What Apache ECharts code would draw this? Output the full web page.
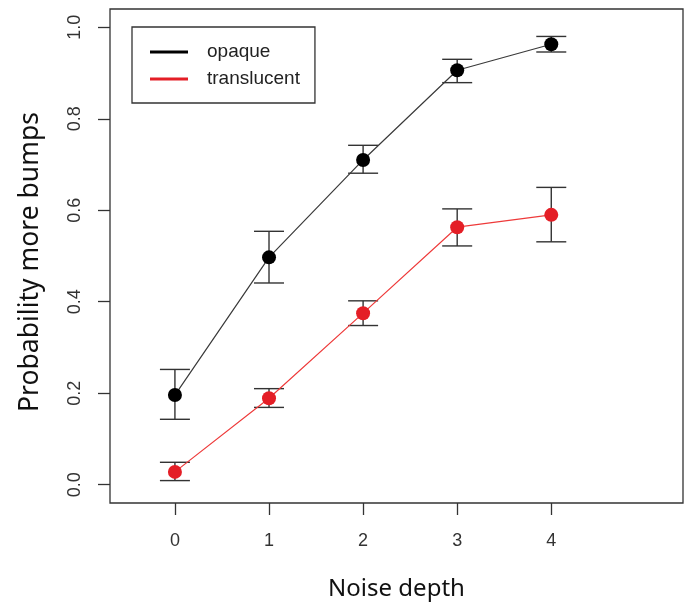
<!DOCTYPE html>
<html>
<head>
<meta charset="utf-8">
<script src="https://cdn.jsdelivr.net/npm/echarts@6/dist/echarts.min.js"></script>
<style>
  html, body { margin: 0; padding: 0; background: #fff; }
  #chart { width: 689px; height: 608px; }
</style>
</head>
<body>
<div id="chart"></div>
<script>
// Noise depth levels
const depths = [0, 1, 2, 3, 4]
const xTicks = [0, 1, 2, 3, 4]
const yTicks = [0, 0.2, 0.4, 0.6, 0.8, 1.0]

// opaque
const opaqueMean = [0.196, 0.497, 0.710, 0.906, 0.963]
const opaqueLow = [0.143, 0.441, 0.681, 0.879, 0.946]
const opaqueHigh = [0.252, 0.554, 0.742, 0.930, 0.980]

// translucent
const transMean = [0.028, 0.189, 0.375, 0.563, 0.590]
const transLow = [0.009, 0.169, 0.348, 0.522, 0.531]
const transHigh = [0.049, 0.210, 0.402, 0.603, 0.650]

const chart = echarts.init(document.getElementById('chart'), null, { renderer: 'canvas' })

// error bar with caps, drawn through the axes
const errorBar = (params, api) => {
  const x = api.value(0)
  const lo = api.coord([x, api.value(1)])
  const hi = api.coord([x, api.value(2)])
  const half = 15
  const style = { stroke: '#333', lineWidth: 1.4 }
  return {
    type: 'group',
    children: [
      { type: 'line', shape: { x1: lo[0], y1: lo[1], x2: hi[0], y2: hi[1] }, style },
      { type: 'line', shape: { x1: lo[0] - half, y1: lo[1], x2: lo[0] + half, y2: lo[1] }, style },
      { type: 'line', shape: { x1: hi[0] - half, y1: hi[1], x2: hi[0] + half, y2: hi[1] }, style }
    ]
  }
}

const tickFont = { fontFamily: 'Liberation Sans', fontSize: 18, color: '#333' }

chart.setOption({
  animation: false,
  backgroundColor: '#fff',
  grid: {
    left: 110, right: 6, top: 9, bottom: 105,
    show: true, borderColor: '#333', borderWidth: 1.3, backgroundColor: 'transparent'
  },
  legend: {
    orient: 'vertical',
    left: 132, top: 27,
    width: 183,
    padding: [15, 15, 14, 18],
    itemGap: 7,
    itemWidth: 38,
    itemHeight: 3,
    icon: 'rect',
    borderColor: '#333',
    borderWidth: 1.3,
    textStyle: { fontFamily: 'Liberation Sans', fontSize: 19, color: '#222', lineHeight: 20, padding: [0, 0, 0, 14] },
    data: ['opaque', 'translucent']
  },
  xAxis: {
    type: 'value',
    min: -0.69, max: 5.4,
    name: 'Noise depth',
    nameLocation: 'middle',
    nameGap: 74,
    nameTextStyle: { fontFamily: 'Noto Sans', fontSize: 24, color: '#111' },
    axisLine: { show: false, onZero: false },
    splitLine: { show: false },
    axisTick: { show: true, length: 12, customValues: xTicks, lineStyle: { color: '#333', width: 1.3 } },
    axisLabel: { ...tickFont, margin: 29, customValues: xTicks, formatter: v => String(v) }
  },
  yAxis: {
    type: 'value',
    min: -0.04, max: 1.04,
    name: 'Probability more bumps',
    nameLocation: 'middle',
    nameGap: 66,
    nameTextStyle: { fontFamily: 'Noto Sans', fontSize: 26.5, color: '#111', padding: [0, 12, 0, 0] },
    axisLine: { show: false, onZero: false },
    splitLine: { show: false },
    axisTick: { show: true, length: 12, customValues: yTicks, lineStyle: { color: '#333', width: 1.3 } },
    axisLabel: { ...tickFont, margin: 26, rotate: 90, customValues: yTicks, formatter: v => v.toFixed(1) }
  },
  series: [
    {
      name: 'opaque',
      type: 'line',
      data: depths.map((d, i) => [d, opaqueMean[i]]),
      symbol: 'circle',
      symbolSize: 14,
      itemStyle: { color: '#000' },
      lineStyle: { color: '#3a3a3a', width: 1.2 },
      z: 3
    },
    {
      name: 'translucent',
      type: 'line',
      data: depths.map((d, i) => [d, transMean[i]]),
      symbol: 'circle',
      symbolSize: 14,
      itemStyle: { color: '#e41e26' },
      lineStyle: { color: '#ee3a3a', width: 1.2 },
      z: 3
    },
    {
      name: 'opaque-err',
      type: 'custom',
      renderItem: errorBar,
      data: depths.map((d, i) => [d, opaqueLow[i], opaqueHigh[i]]),
      z: 2
    },
    {
      name: 'translucent-err',
      type: 'custom',
      renderItem: errorBar,
      data: depths.map((d, i) => [d, transLow[i], transHigh[i]]),
      z: 2
    }
  ]
})
</script>
</body>
</html>
